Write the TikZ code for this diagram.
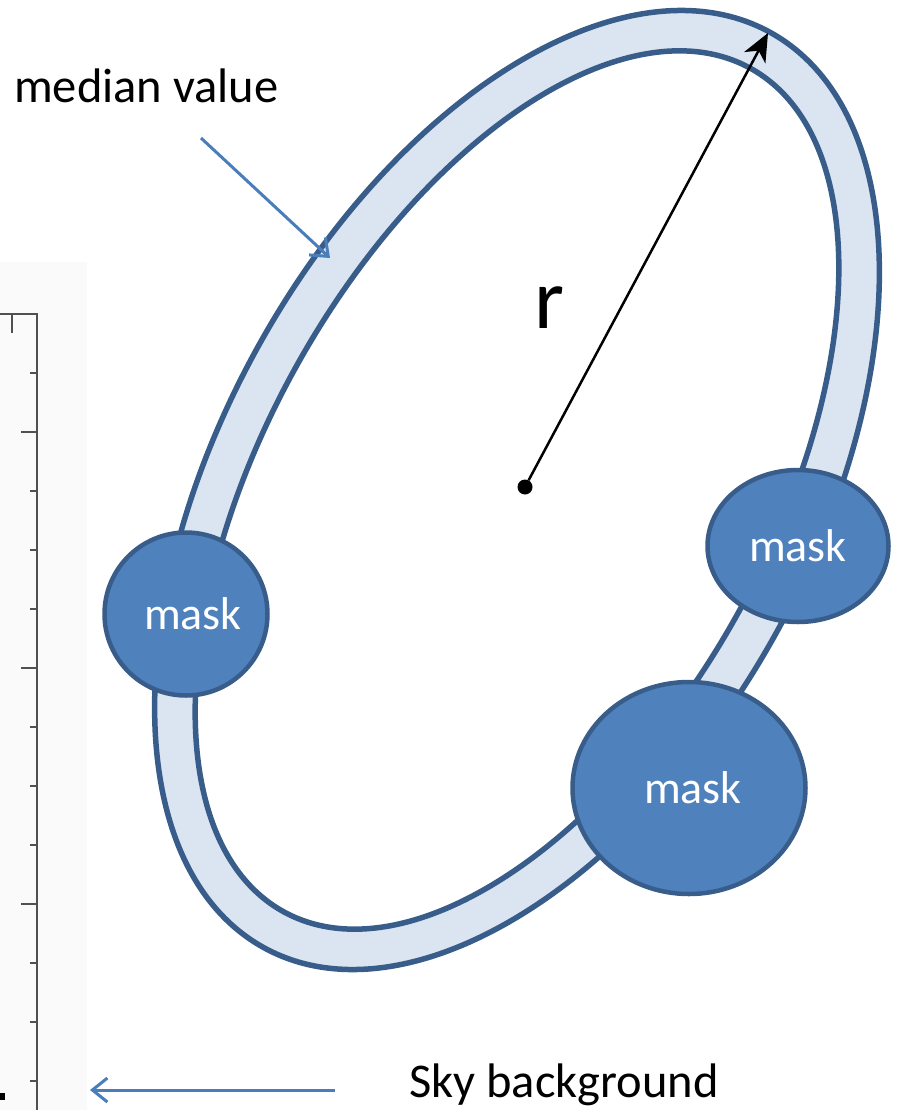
\documentclass[tikz,border=0pt]{standalone}
\usepackage{fontspec}
\setmainfont{Carlito}
\usetikzlibrary{arrows.meta,shapes.geometric}
\definecolor{ringline}{RGB}{56,93,138}
\definecolor{ringfill}{RGB}{219,229,241}
\definecolor{maskfill}{RGB}{79,129,189}
\definecolor{arrowblue}{RGB}{74,126,187}
\definecolor{axisgrey}{RGB}{80,80,80}
\definecolor{panel}{RGB}{250,250,250}
\tikzset{
  every picture/.style={x=1pt, y=-1pt},
  ring/.style={draw=ringline, line width=5.5pt, fill=ringfill, even odd rule},
  mask/.style={ellipse, draw=ringline, line width=4.5pt, fill=maskfill, text=white, inner sep=0pt, font=\fontsize{46}{55}\selectfont},
  lbl/.style={inner sep=0pt, font=\fontsize{48.5}{58}\selectfont},
  pointer/.style={-{Straight Barb[length=15pt,width=24pt]}, draw=arrowblue, line width=3pt},
  radius/.style={-{Stealth[length=28pt,width=24pt,inset=8pt]}, line width=2.5pt},
  dot/.style={circle, fill=black, inner sep=0pt, minimum size=15pt},
  axisline/.style={draw=axisgrey, line width=2.2pt},
}
\begin{document}
\begin{tikzpicture}
  \useasboundingbox (0,0) rectangle (899,1110);
  % left: piece of the sky image axis
  \fill[panel] (0,262) rectangle (87,1110);
  \draw[axisline] (0,314) -- (37,314) -- (37,1110);
  \draw[axisline] (12,314) -- (12,333);
  \foreach \yy/\xx in {373/30, 432/21, 491/30, 550/30, 609/30, 668/21, 727/30,
                       786/30, 845/30, 904/21, 963/30, 1022/30, 1081/30}
    \draw[axisline] (\xx,\yy) -- (37,\yy);
  \fill (0,1093) rectangle (5,1100);

  % annulus, tilted along its major axis
  \path[ring, rotate around={61:(517,490)}]
    (517,490) ellipse [x radius=523pt, y radius=296pt]
    (517,490) ellipse [x radius=482pt, y radius=253pt];

  \node[mask, minimum width=163pt, minimum height=163pt] (maskl) at (186,614) {\hspace{14pt}mask};
  \node[mask, minimum width=181pt, minimum height=152pt] (maskr) at (798,546) {mask};
  \node[mask, minimum width=233pt, minimum height=212pt] (maskb) at (689,788) {\hspace{8pt}mask};

  \node[dot] (centre) at (525,487) {};
  \coordinate (rim) at (768,33);
  \draw[radius] (centre) -- (rim);
  \node[lbl, font=\fontsize{86}{98}\selectfont] (rlabel) at (549,308) {r};

  \node[lbl, anchor=base west] (median) at (14,103) {median value};
  \coordinate (mtail) at (201,138);
  \coordinate (mhead) at (330,258);
  \draw[pointer] (mtail) -- (mhead);

  \node[lbl, anchor=base west] (sky) at (409,1097) {Sky background};
  \coordinate (stail) at (335,1090);
  \coordinate (shead) at (90,1090);
  \draw[pointer] (stail) -- (shead);
\end{tikzpicture}
\end{document}
